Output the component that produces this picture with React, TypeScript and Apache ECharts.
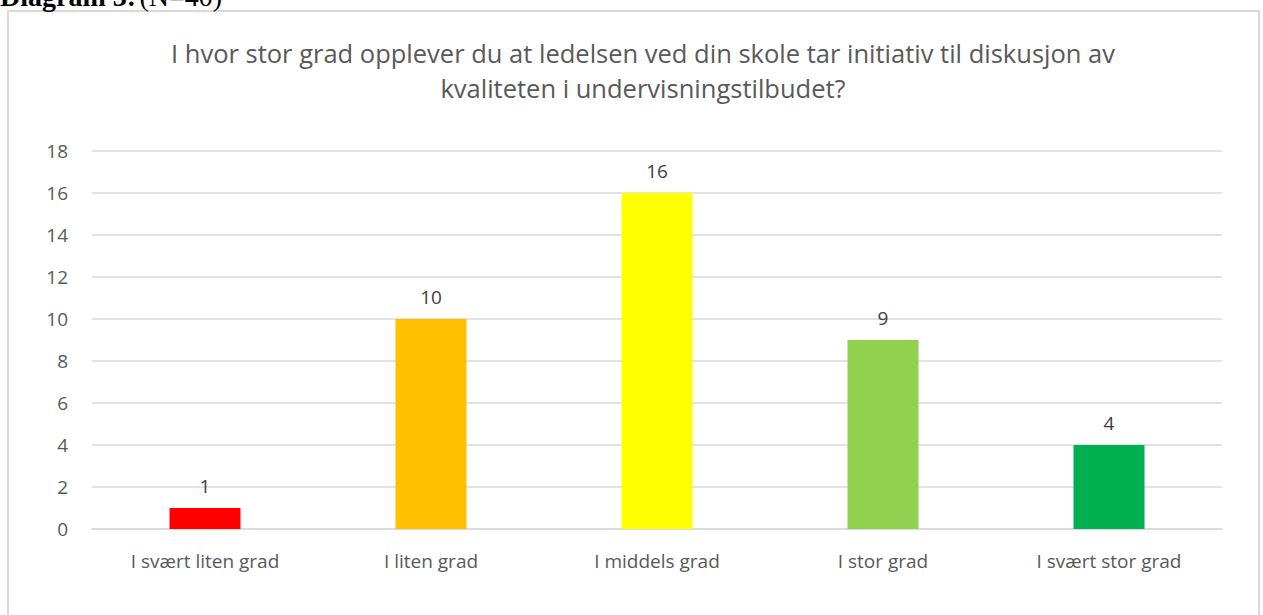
import React, { useEffect, useRef } from "react";
import * as echarts from "echarts";

const categories = ["I svært liten grad", "I liten grad", "I middels grad", "I stor grad", "I svært stor grad"];
const values = [1, 10, 16, 9, 4];
const barColors = ["#FF0000", "#FFC000", "#FFFF00", "#92D050", "#00B050"];
const titleText = "I hvor stor grad opplever du at ledelsen ved din skole tar initiativ til diskusjon av\nkvaliteten i undervisningstilbudet?";

export default function App() {
  const ref = useRef<HTMLDivElement>(null);
  useEffect(() => {
    if (!ref.current) return;
    const chart = echarts.init(ref.current, null, { renderer: "svg" });
    const font = "'Open Sans', sans-serif";
    chart.setOption({
      animation: false,
      backgroundColor: "#ffffff",
      title: {
        text: titleText,
        left: 638,
        textAlign: "center",
        top: 30,
        textStyle: { fontFamily: font, fontSize: 25.5, fontWeight: "normal", color: "#595959", lineHeight: 35 },
      },
      grid: { left: 92, right: 41, top: 151, bottom: 86 },
      xAxis: {
        type: "category",
        data: categories,
        axisLine: { lineStyle: { color: "#d9d9d9", width: 1.5 } },
        axisTick: { show: false },
        axisLabel: { fontFamily: font, fontSize: 19, color: "#595959", margin: 22 },
      },
      yAxis: {
        type: "value",
        min: 0,
        max: 18,
        interval: 2,
        axisLine: { show: false },
        axisTick: { show: false },
        splitLine: { lineStyle: { color: "#d9d9d9", width: 1.5 } },
        axisLabel: { fontFamily: font, fontSize: 19, color: "#595959", margin: 24 },
      },
      series: [
        {
          type: "bar",
          barWidth: 71,
          data: values.map((v, i) => ({ value: v, itemStyle: { color: barColors[i] } })),
          label: {
            show: true,
            position: "top",
            distance: 13,
            fontFamily: font,
            fontSize: 19,
            color: "#404040",
          },
        },
      ],
      graphic: [
        {
          type: "rect",
          shape: { x: 8, y: 11, width: 1251, height: 640 },
          style: { fill: "none", stroke: "#d9d9d9", lineWidth: 2 },
          silent: true,
        },
        {
          type: "text",
          left: 0,
          top: -18,
          style: {
            rich: {
              b: { fontFamily: "'Liberation Serif', serif", fontSize: 28, fontWeight: "bold", fill: "#000" },
              n: { fontFamily: "'Liberation Serif', serif", fontSize: 28, fill: "#000" },
            },
            text: "{b|Diagram 3:} {n|(N=40)}",
          },
        },
      ],
    });
    return () => chart.dispose();
  }, []);
  return <div ref={ref} style={{ position: "absolute", left: 0, top: 0, width: 1263, height: 615 }} />;
}
